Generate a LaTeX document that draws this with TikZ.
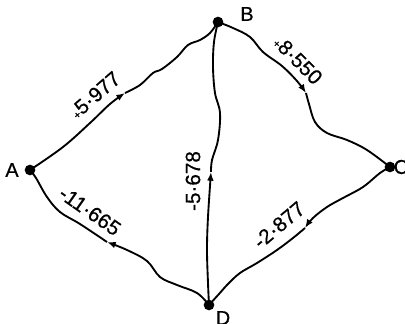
\documentclass[tikz,border=0pt]{standalone}
\usepackage{fontspec}
\setmainfont[FakeBold=0.6]{Liberation Sans}
\usetikzlibrary{arrows.meta}

\begin{document}
\begin{tikzpicture}[
  x=0.75pt, y=-0.75pt,
  station/.style={circle, fill, inner sep=0pt, minimum size=8pt},
  letter/.style={font=\fontsize{15}{16}\selectfont, inner sep=0pt},
  flow/.style={font=\fontsize{15.5}{16}\selectfont, inner sep=0pt},
  leg/.style={line width=1.4pt},
  >={Latex[length=6.5pt,width=5pt]}
]
  \useasboundingbox (0,0) rectangle (405,324);

  %------------------------------------------------------------
  %  STATIONS
  %------------------------------------------------------------
  \node[station] (A) at (30,170)  {};
  \node[station] (B) at (218,22)  {};
  \node[station] (C) at (390,167) {};
  \node[station] (D) at (209,305) {};

  \node[letter] (Alab) at (12,170)  {A};
  \node[letter] (Blab) at (247,14)  {B};
  \node[letter] (Clab) at (401,167) {C};
  \node[letter] (Dlab) at (223,318) {D};

  % arrow points half way along each leg
  \coordinate (ab) at (125,93);
  \coordinate (bc) at (306,93);
  \coordinate (cd) at (305,228);
  \coordinate (da) at (107,242);
  \coordinate (db) at (211,172);

  %------------------------------------------------------------
  %  LEGS  (wavy traced lines)
  %------------------------------------------------------------
  \draw[leg, ->] plot[smooth, tension=0.6] coordinates {
    (A.center) (63,147) (90,123) (110,104) (ab)};
  \draw[leg] plot[smooth, tension=0.6] coordinates {
    (ab) (140,85) (153,73) (162,69) (177,57) (188,45) (200,40) (210,33) (B.center)};

  \draw[leg, ->] plot[smooth, tension=0.6] coordinates {
    (B.center) (233,28) (250,37) (263,52) (282,66) (297,81) (bc)};
  \draw[leg] plot[smooth, tension=0.6] coordinates {
    (bc) (309,104) (315,122) (327,133) (347,140) (367,150) (C.center)};

  \draw[leg, ->] plot[smooth, tension=0.6] coordinates {
    (C.center) (380,173) (363,187) (343,198) (327,207) (313,218) (cd)};
  \draw[leg] plot[smooth, tension=0.6] coordinates {
    (cd) (293,238) (277,250) (257,263) (240,273) (228,284) (219,294) (D.center)};

  \draw[leg, ->] plot[smooth, tension=0.6] coordinates {
    (D.center) (197,293) (177,285) (160,277) (147,261) (127,250) (da)};
  \draw[leg] plot[smooth, tension=0.6] coordinates {
    (da) (80,224) (60,212) (47,197) (36,178) (A.center)};

  \draw[leg, ->] plot[smooth, tension=0.6] coordinates {
    (D.center) (208,283) (207,250) (208,217) (db)};
  \draw[leg] plot[smooth, tension=0.6] coordinates {
    (db) (212,160) (218,140) (220,113) (215,93) (213,67) (214,42) (B.center)};

  %------------------------------------------------------------
  %  FLOW VALUES
  %------------------------------------------------------------
  \node[flow, rotate=41]  (fAB) at (95,95)   {{\footnotesize+}5·977};
  \node[flow, rotate=-45] (fBC) at (298,60)  {{\footnotesize+}8·550};
  \node[flow, rotate=40]  (fCD) at (279,225) {-2·877};
  \node[flow, rotate=-35] (fDA) at (90,211)  {-11·665};
  \node[flow, rotate=90]  (fDB) at (193,181) {-5·678};

\end{tikzpicture}
\end{document}
